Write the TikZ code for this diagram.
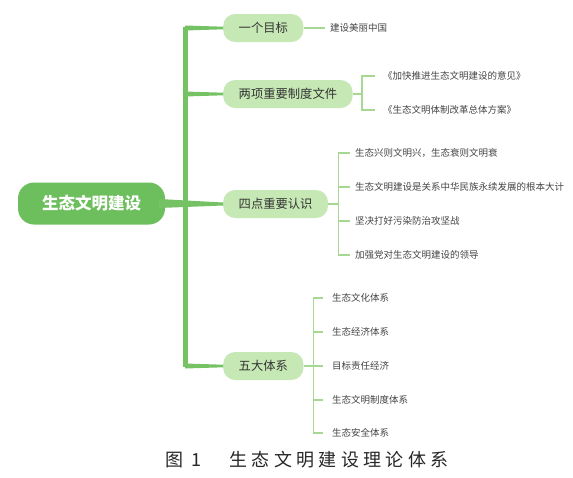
\documentclass[tikz,border=0pt]{standalone}
\usepackage{fontspec}
\setmainfont{Noto Sans CJK SC}
\newfontfamily\capfont[LetterSpace=24]{Noto Sans CJK SC}
\usepackage{tikz}
\usetikzlibrary{calc}
\definecolor{rootgreen}{HTML}{6DBE5D}
\definecolor{topicgreen}{HTML}{C6E8B5}
\definecolor{trunkgreen}{HTML}{74C263}
\definecolor{leafgreen}{HTML}{A6D793}
\definecolor{textgray}{HTML}{333333}
\definecolor{leafgray}{HTML}{444444}
\tikzset{rootbox/.style={fill=rootgreen, rounded corners=16pt, minimum width=147pt, minimum height=42pt, text=white, font=\bfseries\fontsize{16.5pt}{18pt}\selectfont}}
\tikzset{topic/.style={anchor=west, fill=topicgreen, rounded corners=12pt, minimum height=28pt, inner xsep=15.5pt, inner ysep=0pt, text=textgray, font=\fontsize{12.3pt}{14pt}\selectfont}}
\tikzset{leaf/.style={anchor=west, inner sep=0pt, text=leafgray, font=\fontsize{9.5pt}{11pt}\selectfont}}
\tikzset{leafline/.style={draw=leafgreen, line width=1.4pt}}

\begin{document}
\begin{tikzpicture}[x=1pt, y=-1pt]
  \useasboundingbox (0, 0) rectangle (573, 477);
  \node[rootbox] at (91.5, 203.5) (root) {生态文明建设};

  \node[topic] at (223, 28) (goal) {一个目标};
  \node[topic] at (223, 94) (docs) {两项重要制度文件};
  \node[topic] at (223, 204) (insight) {四点重要认识};
  \node[topic] at (223, 366) (system) {五大体系};

  % trunk and tapered branches
  \fill[trunkgreen] ($(root.east)+(-6, -4.5)$) -- ($(insight.west)+(0, -1.5)$) -- ($(insight.west)+(0, 1.5)$) -- ($(root.east)+(-6, 4.5)$) -- cycle;
  \draw[trunkgreen, line width=5pt] ($(goal.west)+(-38, -1.3)$) -- ($(system.west)+(-38, 1.3)$);
  \fill[trunkgreen] ($(goal.west)+(-38, -2.5)$) -- ($(goal.west)+(0, -1.3)$) -- ($(goal.west)+(0, 1.3)$) -- ($(goal.west)+(-38, 2.5)$) -- cycle;
  \fill[trunkgreen] ($(docs.west)+(-38, -2.5)$) -- ($(docs.west)+(0, -1.3)$) -- ($(docs.west)+(0, 1.3)$) -- ($(docs.west)+(-38, 2.5)$) -- cycle;
  \fill[trunkgreen] ($(system.west)+(-38, -2.5)$) -- ($(system.west)+(0, -1.3)$) -- ($(system.west)+(0, 1.3)$) -- ($(system.west)+(-38, 2.5)$) -- cycle;

  % goal
  \node[leaf] at (330, 28) (goalA) {建设美丽中国};
  \draw[leafline, shorten >=5pt] (goal.east) -- (goalA.west);

  % documents
  \node[leaf] at (383, 76) (docA) {《加快推进生态文明建设的意见》};
  \node[leaf] at (383, 110) (docB) {《生态文明体制改革总体方案》};
  \draw[leafline, shorten >=8pt] (docs.east) -- ++(9, 0) |- (docA.west);
  \draw[leafline, shorten >=8pt] (docs.east) -- ++(9, 0) |- (docB.west);

  % insights
  \node[leaf] at (355, 153) (insA) {生态兴则文明兴，生态衰则文明衰};
  \node[leaf] at (355, 187) (insB) {生态文明建设是关系中华民族永续发展的根本大计};
  \node[leaf] at (355, 221) (insC) {坚决打好污染防治攻坚战};
  \node[leaf] at (355, 255) (insD) {加强党对生态文明建设的领导};
  \draw[leafline, shorten >=5pt] (insight.east) -- ++(10, 0) |- (insA.west);
  \draw[leafline, shorten >=5pt] (insight.east) -- ++(10, 0) |- (insB.west);
  \draw[leafline, shorten >=5pt] (insight.east) -- ++(10, 0) |- (insC.west);
  \draw[leafline, shorten >=5pt] (insight.east) -- ++(10, 0) |- (insD.west);

  % systems
  \node[leaf] at (332, 298) (sysA) {生态文化体系};
  \node[leaf] at (332, 332) (sysB) {生态经济体系};
  \node[leaf] at (332, 366) (sysC) {目标责任经济};
  \node[leaf] at (332, 400) (sysD) {生态文明制度体系};
  \node[leaf] at (332, 433) (sysE) {生态安全体系};
  \draw[leafline, shorten >=9pt] (system.east) -- ++(10, 0) |- (sysA.west);
  \draw[leafline, shorten >=9pt] (system.east) -- ++(10, 0) |- (sysB.west);
  \draw[leafline, shorten >=9pt] (system.east) -- (sysC.west);
  \draw[leafline, shorten >=9pt] (system.east) -- ++(10, 0) |- (sysD.west);
  \draw[leafline, shorten >=9pt] (system.east) -- ++(10, 0) |- (sysE.west);

  \node[anchor=west, inner sep=0pt, text=black!85, font=\capfont\fontsize{18pt}{20pt}\selectfont] at (165, 460) (caption) {图 1\hspace{28pt}生态文明建设理论体系};
\end{tikzpicture}
\end{document}
